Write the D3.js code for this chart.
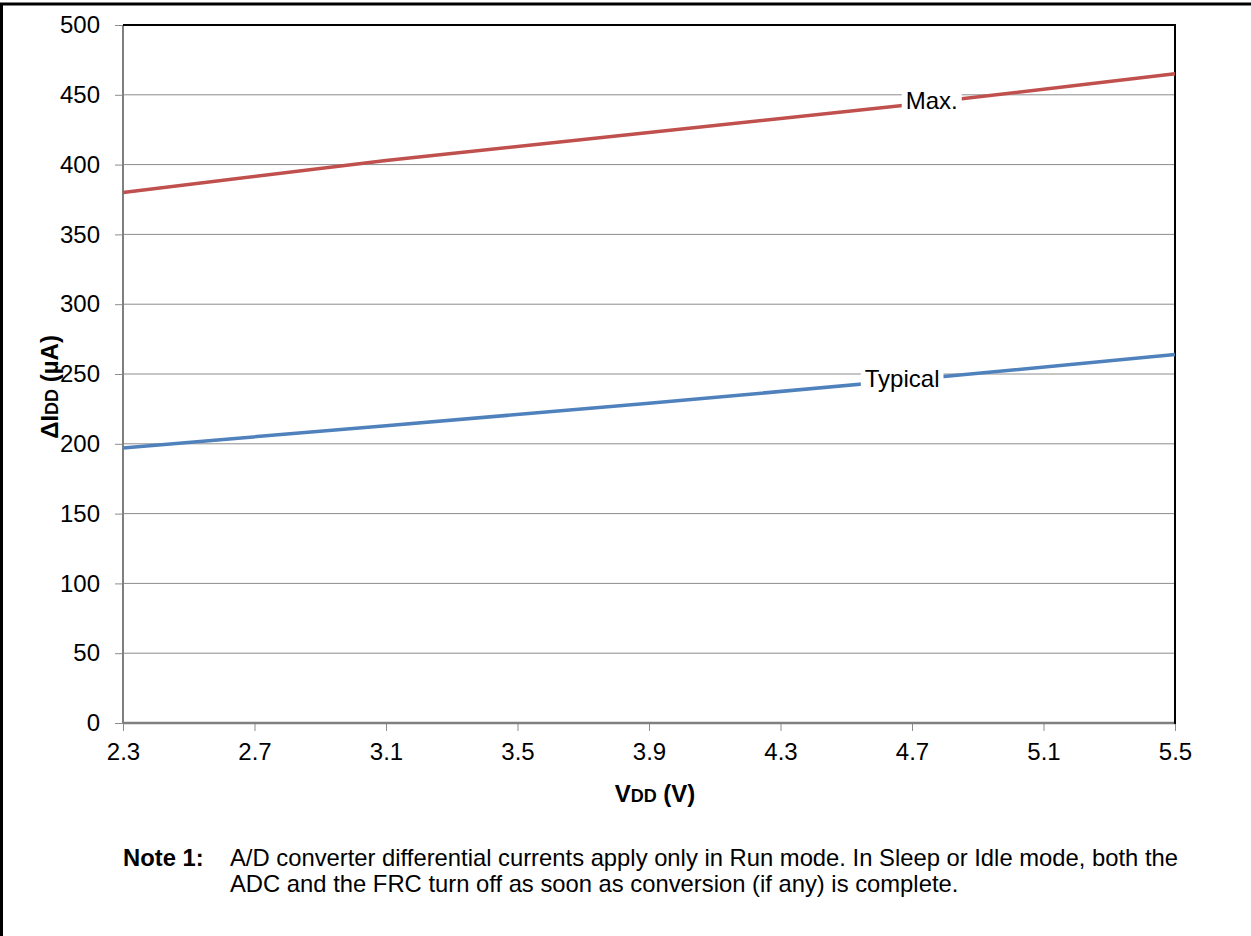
<!DOCTYPE html>
<html><head><meta charset="utf-8">
<script src="https://cdn.jsdelivr.net/npm/d3@7"></script>
<style>body{margin:0;background:#fff;} svg{display:block;} text{font-family:"Liberation Sans",Arial,sans-serif;}</style>
</head><body>
<svg id="c" width="1251" height="936"></svg>
<script>
const vdd = [2.3, 3.1, 3.9, 4.7, 5.5];
const maxVals = [380, 403, 423, 443, 465];
const typVals = [197, 213, 229, 246, 264];
const xTicks = [2.3, 2.7, 3.1, 3.5, 3.9, 4.3, 4.7, 5.1, 5.5];
const yTicks = [0, 50, 100, 150, 200, 250, 300, 350, 400, 450, 500];
const seriesNames = ["Max.", "Typical"];
const labelX = [4.76, 4.67];

const svg = d3.select("#c");
const L = 123, R = 1175, T = 25, B = 723;
const x = d3.scaleLinear().domain([2.3, 5.5]).range([L, R]);
const y = d3.scaleLinear().domain([0, 500]).range([B, T]);
const FF = "Liberation Sans, Arial, sans-serif";

// outer frame
svg.append("line").attr("x1",1.5).attr("x2",1.5).attr("y1",4).attr("y2",936).attr("stroke","#000").attr("stroke-width",3);
svg.append("line").attr("x1",0).attr("x2",1251).attr("y1",4).attr("y2",4).attr("stroke","#000").attr("stroke-width",3);

// gridlines
svg.append("g").selectAll("line").data(yTicks.filter(d=>d>0 && d<500)).join("line")
  .attr("x1",L).attr("x2",R).attr("y1",d=>y(d)).attr("y2",d=>y(d))
  .attr("stroke","#8c8c8c").attr("stroke-width",1);

// y axis
const ya = svg.append("g").attr("transform",`translate(${L},0)`)
  .call(d3.axisLeft(y).tickValues(yTicks).tickSize(8).tickPadding(15).tickFormat(d3.format("d")));
ya.select(".domain").remove();
ya.selectAll(".tick line").attr("stroke","#8c8c8c");
ya.selectAll(".tick text").attr("font-size",24).attr("fill","#000").attr("font-family",FF);

// x axis
const xa = svg.append("g").attr("transform",`translate(0,${B})`)
  .call(d3.axisBottom(x).tickValues(xTicks).tickSize(8).tickPadding(12).tickFormat(d3.format(".1f")));
xa.select(".domain").remove();
xa.selectAll(".tick line").attr("stroke","#8c8c8c");
xa.selectAll(".tick text").attr("font-size",24).attr("fill","#000").attr("font-family",FF);

// plot borders
svg.append("line").attr("x1",L).attr("x2",L).attr("y1",T).attr("y2",B).attr("stroke","#7f7f7f").attr("stroke-width",2);
svg.append("line").attr("x1",L).attr("x2",R).attr("y1",B).attr("y2",B).attr("stroke","#7f7f7f").attr("stroke-width",2.5);
svg.append("line").attr("x1",L).attr("x2",R+1).attr("y1",T).attr("y2",T).attr("stroke","#000").attr("stroke-width",2);
svg.append("line").attr("x1",R).attr("x2",R).attr("y1",T).attr("y2",B+1).attr("stroke","#000").attr("stroke-width",2);

// series
const line = d3.line().x(d=>x(d[0])).y(d=>y(d[1]));
const series = [
  {name: seriesNames[0], vals: maxVals, color:"#C0504D", lx: labelX[0]},
  {name: seriesNames[1], vals: typVals, color:"#4F81BD", lx: labelX[1]}
];
const interp = (vals, v) => {
  for (let i=0;i<vdd.length-1;i++){
    if (v>=vdd[i] && v<=vdd[i+1]) return vals[i]+(vals[i+1]-vals[i])*(v-vdd[i])/(vdd[i+1]-vdd[i]);
  }
  return vals[vals.length-1];
};
series.forEach(s=>{
  svg.append("path").datum(vdd.map((v,i)=>[v,s.vals[i]])).attr("d",line)
    .attr("fill","none").attr("stroke",s.color).attr("stroke-width",3.5);
});
series.forEach(s=>{
  const cx = x(s.lx), cy = y(interp(s.vals, s.lx)) - 2;
  const t = svg.append("text").attr("x",cx).attr("y",cy).attr("text-anchor","middle")
    .attr("dominant-baseline","central").attr("font-size",24).attr("fill","#000").text(s.name);
  const bb = t.node().getBBox();
  svg.insert("rect", () => t.node()).attr("x",bb.x-4).attr("y",bb.y-1).attr("width",bb.width+8).attr("height",bb.height+2).attr("fill","#fff");
});

// axis titles
const xt = svg.append("text").attr("x",655).attr("y",802).attr("text-anchor","middle")
  .attr("font-size",24).attr("font-weight","bold").attr("fill","#000");
xt.append("tspan").text("V");
xt.append("tspan").attr("font-size",18).text("DD");
xt.append("tspan").text(" (V)");

const yt = svg.append("text").attr("transform","translate(58,387) rotate(-90)").attr("text-anchor","middle")
  .attr("font-size",24).attr("font-weight","bold").attr("fill","#000");
yt.append("tspan").text("ΔI");
yt.append("tspan").attr("font-size",18).text("DD");
yt.append("tspan").text(" (µA)");

// note
svg.append("text").attr("x",123).attr("y",866).attr("font-size",23.8).attr("font-weight","bold").attr("fill","#000").text("Note 1:");
svg.append("text").attr("x",230).attr("y",866).attr("font-size",23.8).attr("fill","#000")
  .text("A/D converter differential currents apply only in Run mode. In Sleep or Idle mode, both the");
svg.append("text").attr("x",230).attr("y",892).attr("font-size",23.8).attr("fill","#000")
  .text("ADC and the FRC turn off as soon as conversion (if any) is complete.");
</script>
</body></html>
